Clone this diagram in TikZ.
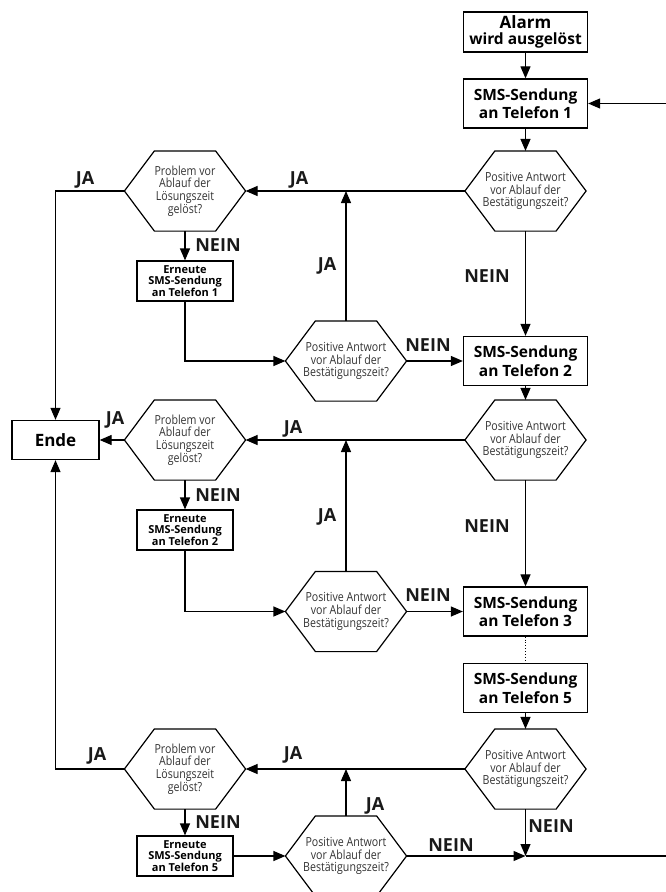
\documentclass[tikz,border=0pt]{standalone}
\usepackage{fontspec}
\setmainfont{Open Sans}
\newfontfamily\hexfont[FakeStretch=0.85]{Open Sans}
\usetikzlibrary{arrows.meta}
\begin{document}
\begin{tikzpicture}[x=1pt,y=-1pt, line width=1.2pt,
  box/.style={draw, line width=1.3pt, minimum width=124pt, minimum height=49pt, inner sep=0pt, align=center, font=\fontsize{15.5}{18.5}\selectfont\bfseries},
  ebox/.style={draw, line width=1.2pt, minimum width=96pt, minimum height=40pt, inner sep=0pt, align=center, font=\fontsize{11}{10.5}\selectfont\bfseries},
  hexa/.style={minimum width=120pt, minimum height=79pt, inner sep=0pt, align=center, text=black!80, font=\hexfont\fontsize{12.5}{12.8}\selectfont},
  lab/.style={font=\fontsize{18}{18}\selectfont\bfseries, inner sep=0pt, text=black!90},
  arr/.style={-{Triangle[length=12pt,width=10pt]}},
  ]
\clip (0,0) rectangle (666,892);
% boxes
\node[box, minimum height=40pt] (alarm) at (525.5,32) {\fontsize{17}{15}\selectfont Alarm\\[-3pt]\fontsize{15.5}{15}\selectfont wird ausgelöst};
\node[box] (sms1) at (525.5,103.5) {SMS-Sendung\\an Telefon 1};
\node[hexa] (hR1) at (525.5,191) {Positive Antwort\\vor Ablauf der\\Bestätigungszeit?};
\node[hexa] (pL1) at (185,191) {Problem vor\\Ablauf der\\Lösungszeit\\gelöst?};
\node[ebox] (e1) at (185,281) {Erneute\\SMS-Sendung\\an Telefon 1};
\node[hexa] (hM1) at (346,361) {Positive Antwort\\vor Ablauf der\\Bestätigungszeit?};
\node[box] (sms2) at (525.5,361) {SMS-Sendung\\an Telefon 2};
\node[hexa] (hR2) at (525.5,440) {Positive Antwort\\vor Ablauf der\\Bestätigungszeit?};
\node[box, minimum width=87pt, minimum height=39pt, font=\fontsize{17}{17}\selectfont\bfseries] (ende) at (55.5,440) {Ende};
\node[hexa] (pL2) at (185,440) {Problem vor\\Ablauf der\\Lösungszeit\\gelöst?};
\node[ebox] (e2) at (185,530) {Erneute\\SMS-Sendung\\an Telefon 2};
\node[hexa] (hM2) at (346,611.5) {Positive Antwort\\vor Ablauf der\\Bestätigungszeit?};
\node[box] (sms3) at (525.5,611.5) {SMS-Sendung\\an Telefon 3};
\node[box] (sms5) at (525.5,688) {SMS-Sendung\\an Telefon 5};
\node[hexa] (hR3) at (525.5,769) {Positive Antwort\\vor Ablauf der\\Bestätigungszeit?};
\node[hexa] (pL3) at (185,769) {Problem vor\\Ablauf der\\Lösungszeit\\gelöst?};
\node[ebox] (e5) at (185,856) {Erneute\\SMS-Sendung\\an Telefon 5};
\node[hexa] (hM3) at (346,856) {Positive Antwort\\vor Ablauf der\\Bestätigungszeit?};
% hexagon outlines
\foreach \n in {hR1,pL1,hM1,hR2,pL2,hM2,hR3,pL3,hM3}
  \draw[line width=1.2pt, line join=miter] (\n.west) -- ([xshift=30pt]\n.north west) -- ([xshift=-30pt]\n.north east) -- (\n.east) -- ([xshift=-30pt]\n.south east) -- ([xshift=30pt]\n.south west) -- cycle;
% free ends
\coordinate (rin) at (666,103.5);
\coordinate (rout) at (666,856);
\coordinate (j) at (hR3.south |- hM3.east);
% connectors
\draw[arr] (alarm.south) -- (sms1.north);
\draw[arr] (rin) -- (sms1.east);
\draw[arr] (sms1.south) -- (hR1.north);
\draw[arr] (hR1.west) -- (pL1.east);
\draw[arr] (hM1.north) -- (hM1.north |- hR1.west);
\draw[arr] (pL1.west) -| (ende.north);
\draw[arr] (pL1.south) -- (e1.north);
\draw[arr] (e1.south) |- (hM1.west);
\draw[arr] (hM1.east) -- (sms2.west);
\draw[arr] (hR1.south) -- (sms2.north);
\draw[arr] (sms2.south) -- (hR2.north);
\draw[arr] (hR2.west) -- (pL2.east);
\draw[arr] (pL2.west) -- (ende.east);
\draw[arr] (pL2.south) -- (e2.north);
\draw[arr] (e2.south) |- (hM2.west);
\draw[arr] (hM2.north) -- (hM2.north |- hR2.west);
\draw[arr] (hM2.east) -- (sms3.west);
\draw[arr] (hR2.south) -- (sms3.north);
\draw[dotted, line width=0.9pt] (sms3.south) -- (sms5.north);
\draw[arr] (sms5.south) -- (hR3.north);
\draw[arr] (hR3.west) -- (pL3.east);
\draw[arr] (pL3.west) -| (ende.south);
\draw[arr] (pL3.south) -- (e5.north);
\draw[arr] (e5.east) -- (hM3.west);
\draw[arr] (hM3.north) -- (hM3.north |- hR3.west);
\draw[arr] (hR3.south) -- (j);
\draw[arr] (hM3.east) -- (j);
\draw (j) -- (rout);
% labels
\node[lab] (l1) at (85,180) {JA};
\node[lab] (l2) at (299,180) {JA};
\node[lab] (l3) at (327,266) {JA};
\node[lab] (l4) at (487,276) {NEIN};
\node[lab] (l5) at (218,245) {NEIN};
\node[lab] (l6) at (428,345) {NEIN};
\node[lab] (l7) at (115,420) {JA};
\node[lab] (l8) at (293,429) {JA};
\node[lab] (l9) at (218,495) {NEIN};
\node[lab] (l10) at (327,517) {JA};
\node[lab] (l11) at (487,526) {NEIN};
\node[lab] (l12) at (428,595) {NEIN};
\node[lab] (l13) at (97,756) {JA};
\node[lab] (l14) at (293,755) {JA};
\node[lab] (l15) at (375,806) {JA};
\node[lab] (l16) at (218,822) {NEIN};
\node[lab] (l17) at (551,826) {NEIN};
\node[lab] (l18) at (451,845) {NEIN};
\end{tikzpicture}
\end{document}
